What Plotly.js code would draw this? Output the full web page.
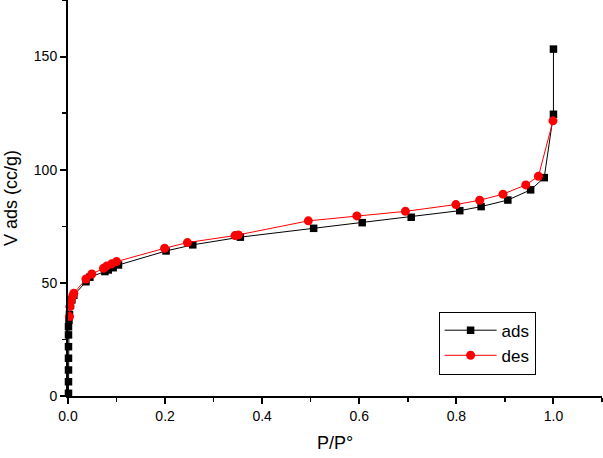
<!DOCTYPE html>
<html>
<head>
<meta charset="utf-8">
<script src="https://cdn.plot.ly/plotly-3.0.1.min.js"></script>
<style>html,body{margin:0;padding:0;background:#fff;}#chart{width:603px;height:458px;}</style>
</head>
<body>
<div id="chart"></div>
<script>
// Adsorption branch
const adsP = [0.001, 0.001, 0.001, 0.001, 0.001, 0.001, 0.001, 0.002, 0.003, 0.005, 0.008, 0.012,
  0.037, 0.045, 0.076, 0.083, 0.093, 0.104, 0.202, 0.257, 0.355, 0.506, 0.606, 0.707, 0.807, 0.851, 0.906, 0.953, 0.981, 1.0, 1.0];
const adsV = [1.2, 6.3, 11.5, 16.7, 21.8, 27.0, 30.6, 33.5, 36.0, 40.0, 42.5, 44.5,
  50.5, 52.5, 55.0, 55.7, 56.7, 57.9, 64.1, 66.8, 70.2, 74.1, 76.6, 79.0, 81.9, 83.7, 86.6, 91.1, 96.5, 124.5, 153.3];
// Desorption branch
const desP = [0.999, 0.969, 0.943, 0.896, 0.848, 0.799, 0.695, 0.595, 0.495, 0.351, 0.344, 0.246, 0.199,
  0.100, 0.090, 0.080, 0.073, 0.049, 0.037, 0.012, 0.0097, 0.0055, 0.004, 0.003];
const desV = [121.6, 97.1, 93.3, 89.2, 86.5, 84.6, 81.6, 79.6, 77.4, 71.2, 70.9, 67.8, 65.3,
  59.4, 58.4, 57.5, 56.4, 53.9, 51.7, 45.4, 44.2, 41.7, 39.5, 35.1];
const seriesNames = ["ads", "des"];

const font = "Liberation Sans, Arial, sans-serif";
const traces = [
  {x: adsP, y: adsV, name: seriesNames[0], type: "scatter", mode: "lines+markers",
   line: {color: "#000", width: 1}, marker: {symbol: "square", size: 7.5, color: "#000"}, cliponaxis: false},
  {x: desP, y: desV, name: seriesNames[1], type: "scatter", mode: "lines+markers",
   line: {color: "#ff0000", width: 1}, marker: {symbol: "circle", size: 9, color: "#ff0000"}, cliponaxis: false}
];
const layout = {
  width: 603, height: 458,
  margin: {l: 68, r: 1, t: 0, b: 62},
  paper_bgcolor: "#fff", plot_bgcolor: "#fff",
  font: {family: font, color: "#000"},
  showlegend: true,
  legend: {x: 0.694, y: 0.213, xanchor: "left", yanchor: "top", bordercolor: "#000", borderwidth: 1,
    font: {size: 17, family: font}, bgcolor: "#fff", tracegroupgap: 0, itemwidth: 52},
  xaxis: {range: [0, 1.1], showgrid: false, zeroline: false, showline: true, linecolor: "#000", linewidth: 2,
    ticks: "outside", ticklen: 6, tickwidth: 2, tickcolor: "#000", dtick: 0.2, tickformat: ".1f",
    minor: {dtick: 0.1, ticks: "outside", ticklen: 4, tickwidth: 1.5, tickcolor: "#000", showgrid: false},
    tickfont: {size: 14}, title: {text: "P/P°", font: {size: 18}, standoff: 14}},
  yaxis: {range: [0, 175], showgrid: false, zeroline: false, showline: true, linecolor: "#000", linewidth: 2,
    ticks: "outside", ticklen: 6, tickwidth: 2, tickcolor: "#000", dtick: 50,
    minor: {dtick: 25, ticks: "outside", ticklen: 4, tickwidth: 1.5, tickcolor: "#000", showgrid: false},
    tickfont: {size: 14}, title: {text: "V ads (cc/g)", font: {size: 18}, standoff: 12}}
};
Plotly.newPlot("chart", traces, layout, {displayModeBar: false, staticPlot: true});
</script>
</body>
</html>
